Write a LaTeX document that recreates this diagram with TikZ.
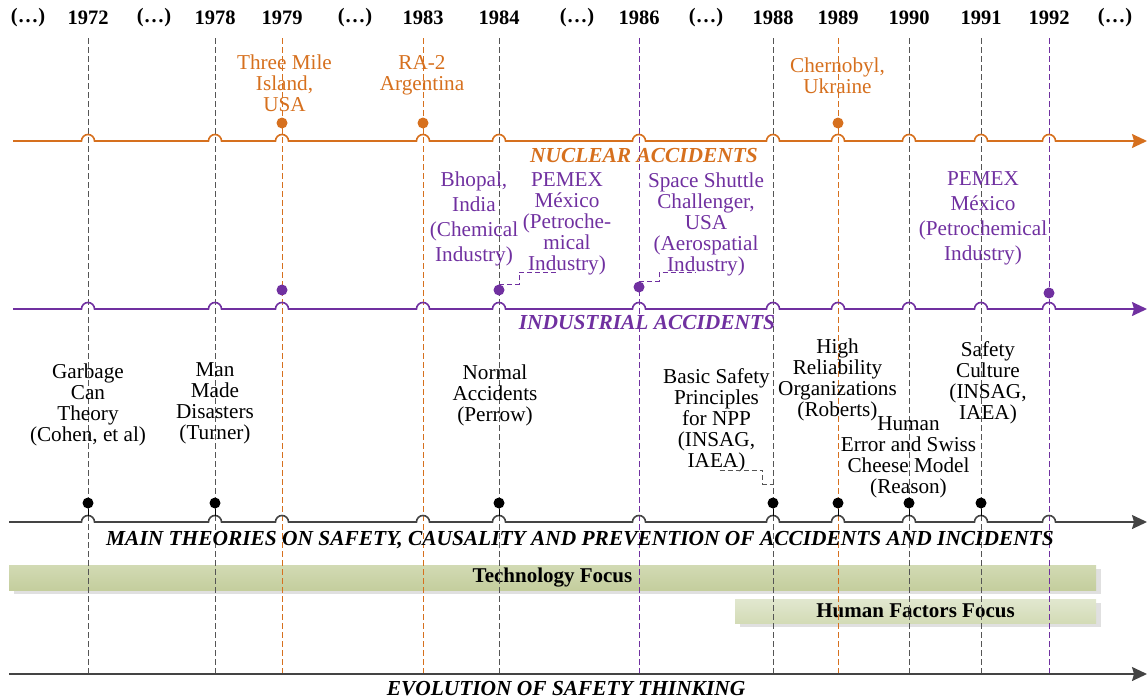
\documentclass[tikz,border=0pt]{standalone}
\usepackage{fontspec}
\setmainfont{Liberation Serif}
\usepackage{tikz}
\usetikzlibrary{positioning}
\usetikzlibrary{arrows.meta}
\usetikzlibrary{calc}
\usetikzlibrary{shadows}

\definecolor{nucorange}{RGB}{214,112,30}
\definecolor{indpurple}{RGB}{112,48,160}
\definecolor{axisgray}{RGB}{68,68,68}
\definecolor{gridgray}{RGB}{85,85,85}
\definecolor{techtop}{RGB}{210,218,180}
\definecolor{techbot}{RGB}{196,206,157}
\definecolor{humtop}{RGB}{225,231,207}
\definecolor{humbot}{RGB}{211,219,182}
\def\crossings{88,215,282,423,499,639,773,838,909,981,1049}

\begin{document}
\begin{tikzpicture}[x=1pt,y=-1pt]
\tikzset{yearlbl/.style={font=\fontsize{20.5}{22}\selectfont\bfseries}}
\tikzset{evtext/.style={align=center,inner sep=0pt,font=\fontsize{21.2}{21}\selectfont}}
\tikzset{widetext/.style={align=center,inner sep=0pt,font=\fontsize{21.2}{25}\selectfont}}
\tikzset{timeaxis/.style={line width=1.6pt,-{Stealth[length=15pt,width=14pt,inset=2pt]}}}
\tikzset{axisname/.style={font=\fontsize{21.4}{22}\selectfont\bfseries\itshape}}
\tikzset{yearline/.style={dash pattern=on 6pt off 3pt,line width=0.9pt}}
\tikzset{evdot/.style={circle,fill,inner sep=0pt,minimum size=11pt}}
\tikzset{steplink/.style={dash pattern=on 5pt off 3pt,line width=0.8pt}}
\tikzset{focusbar/.style={font=\fontsize{21}{22}\selectfont\bfseries,inner sep=0pt,
  drop shadow={shadow xshift=5pt,shadow yshift=-4pt,fill=black!12,opacity=1}}}
\useasboundingbox (0,0) rectangle (1148,699);

\node[focusbar,minimum width=1087pt,minimum height=25pt,top color=techtop,bottom color=techbot] (tech) at (552.5,577.5) {Technology Focus};
\node[focusbar,minimum width=361pt,minimum height=24pt,top color=humtop,bottom color=humbot] (human) at (915.5,611) {Human Factors Focus};

\foreach \x/\yr/\col in {88/1972/gridgray,215/1978/gridgray,282/1979/nucorange,423/1983/nucorange,499/1984/gridgray,639/1986/indpurple,773/1988/gridgray,838/1989/nucorange,909/1990/gridgray,981/1991/gridgray,1049/1992/indpurple}{
  \node[yearlbl] (y\yr) at (\x,18) {\yr};
  \draw[yearline,\col] (\x,38) -- (\x,674);
}
\foreach \x [count=\i] in {28,154,355,577,706,1115}
  \node[yearlbl] (gap\i) at (\x,18) {(…)};

\draw[timeaxis,nucorange] (13,141) foreach \x in \crossings {-- (\x-6.5,141) arc[start angle=180,end angle=0,radius=6.5pt]} -- (1147,141);
\draw[timeaxis,indpurple] (13,309) foreach \x in \crossings {-- (\x-6.5,309) arc[start angle=180,end angle=0,radius=6.5pt]} -- (1147,309);
\draw[timeaxis,axisgray] (9,522) foreach \x in \crossings {-- (\x-6.5,522) arc[start angle=180,end angle=0,radius=6.5pt]} -- (1147,522);
\draw[timeaxis,axisgray] (9,674) -- (1147,674);

\node[axisname,nucorange] (nucname) at (644,156) {NUCLEAR ACCIDENTS};
\node[axisname,indpurple] (indname) at (647,323) {INDUSTRIAL ACCIDENTS};
\node[axisname] (thname) at (580,540) {MAIN THEORIES ON SAFETY, CAUSALITY AND PREVENTION OF ACCIDENTS AND INCIDENTS};
\node[axisname] (evname) at (566,689) {EVOLUTION OF SAFETY THINKING};

\node[evdot,nucorange] (n79) at (282,123) {};
\node[evdot,nucorange] (n83) at (423,123) {};
\node[evdot,nucorange] (n89) at (838,123) {};
\node[evdot,indpurple] (i79) at (282,290) {};
\node[evdot,indpurple] (i84) at (499,290) {};
\node[evdot,indpurple] (i86) at (639,287) {};
\node[evdot,indpurple] (i92) at (1049,293) {};
\foreach \x/\yr in {88/72,215/78,499/84,773/88,838/89,909/90,981/91}{
  \node[evdot] (t\yr) at (\x,503) {};
  \draw[line width=1pt] (t\yr) -- (\x,516);
}

\node[evtext,nucorange] (tmi) at (284.5,83) {Three Mile\\Island,\\USA};
\node[evtext,nucorange] (ra2) at (422,75.5) {RA-2\\Argentina};
\node[evtext,nucorange] (cher) at (837.5,75.5) {Chernobyl,\\Ukraine};

\node[widetext,indpurple] (bhopal) at (474,219) {Bhopal,\\India\\(Chemical\\Industry)};
\node[evtext,indpurple] (pemexA) at (567,224) {PEMEX\\México\\(Petroche-\\mical\\Industry)};
\node[evtext,indpurple] (chall) at (706,224) {Space Shuttle\\Challenger,\\USA\\(Aerospatial\\Industry)};
\node[widetext,indpurple] (pemexB) at (983,218.5) {PEMEX\\México\\(Petrochemical\\Industry)};

\node[evtext] (garbage) at (88,405) {Garbage\\Can\\Theory\\(Cohen, et al)};
\node[evtext] (manmade) at (215,403) {Man\\Made\\Disasters\\(Turner)};
\node[evtext] (normal) at (495,395) {Normal\\Accidents\\(Perrow)};
\node[evtext] (bsp) at (716.5,420) {Basic Safety\\Principles\\for NPP\\(INSAG,\\IAEA)};
\node[evtext] (hro) at (837.5,379.5) {High\\Reliability\\Organizations\\(Roberts)};
\node[evtext] (swiss) at (908.5,457.5) {Human\\Error and Swiss\\Cheese Model\\(Reason)};
\node[evtext] (culture) at (988,383) {Safety\\Culture\\(INSAG,\\IAEA)};

\draw[steplink,indpurple] (i84.north) -- ++(20,0) |- ($(pemexA.south)+(-10,-3)$);
\draw[steplink,indpurple] (i86.north) -- ++(20,0) |- ($(chall.south)+(-10,-3)$);
\draw[steplink,gridgray] ($(bsp.south)+(3,-1.5)$) -- ++(43,0) |- ($(t88.north)+(0,-13)$);
\end{tikzpicture}
\end{document}
